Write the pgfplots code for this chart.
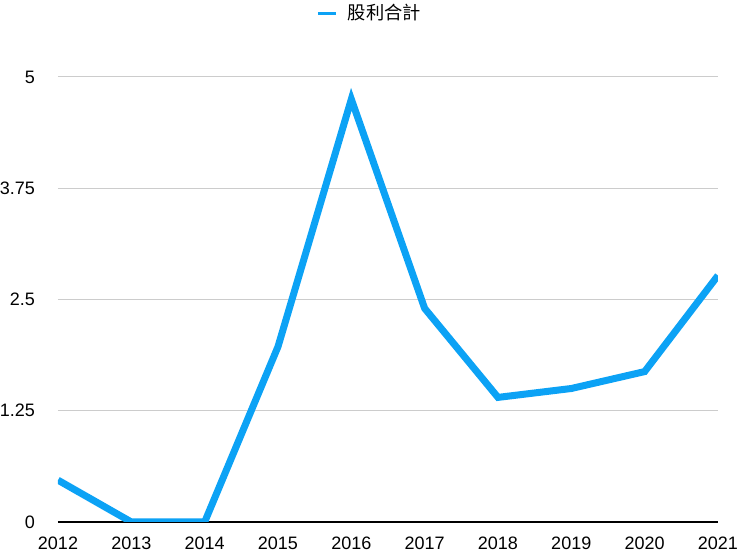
\documentclass[border=0pt]{standalone}
\usepackage{fontspec}
\setmainfont{Liberation Sans}
\newfontfamily\cjk{Noto Sans CJK TC}
\usepackage{pgfplots}
\pgfplotsset{compat=1.18}
\definecolor{lineblue}{RGB}{12,162,245}
\definecolor{gridgray}{RGB}{204,204,204}
\begin{document}
\begin{tikzpicture}
  % page box: 740x553 px at 0.75pt per px, axis lower left at px (58,522)
  \useasboundingbox (-43.5pt,-23.25pt) rectangle (511.5pt,391.5pt);
  \begin{axis}[
      scale only axis,
      width=495pt,
      height=333.75pt,
      xmin=2012, xmax=2021,
      ymin=0, ymax=5,
      xtick={2012,...,2021},
      ytick={0,1.25,2.5,3.75,5},
      major tick length=0pt,
      ymajorgrids,
      grid style={gridgray, line width=0.75pt},
      axis x line*=bottom,
      axis y line*=left,
      x axis line style={-, black, line width=0.8pt},
      y axis line style={draw=none},
      font=\fontsize{13.5}{16}\selectfont,
      /pgf/number format/assume math mode=true,
      /pgf/number format/1000 sep={},
      xticklabel style={yshift=-7.6pt},
      yticklabel style={xshift=-13.75pt},
      legend style={at={(axis description cs:0.4727,1.1438)}, anchor=center,
        draw=none, fill=none, font=\cjk\fontsize{13.7}{16}\selectfont},
      legend image code/.code={
        \draw[lineblue, line width=2.25pt] (0pt,0pt) -- (13.5pt,0pt);
        \path (18pt,0pt);
      },
    ]
    \addplot[lineblue, line width=5.25pt, line join=miter] coordinates {
      (2012,0.47) (2013,0) (2014,0) (2015,1.97) (2016,4.75)
      (2017,2.40) (2018,1.40) (2019,1.50) (2020,1.69) (2021,2.77)
    };
    \addlegendentry{股利合計}
  \end{axis}
\end{tikzpicture}
\end{document}
